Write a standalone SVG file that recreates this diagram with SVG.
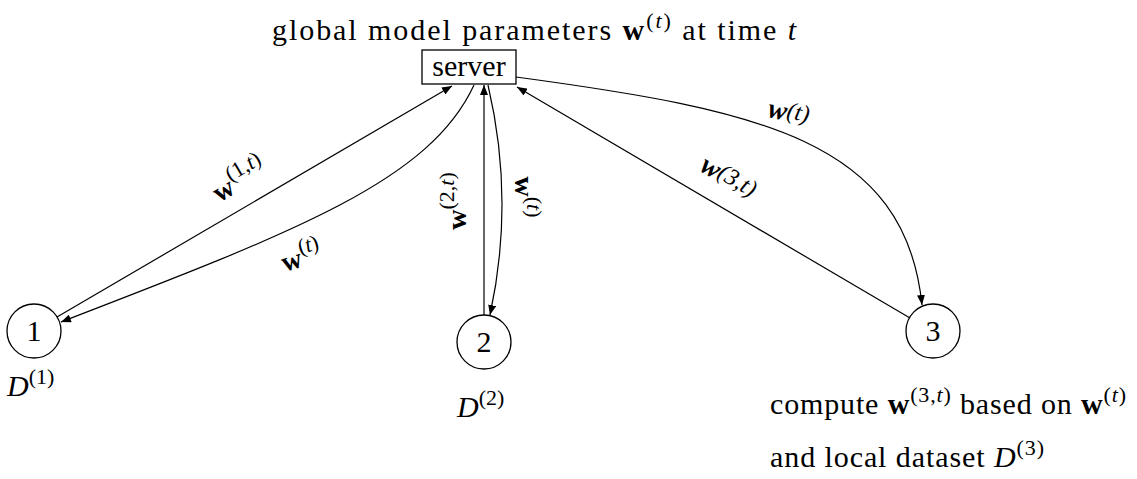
<svg xmlns="http://www.w3.org/2000/svg" width="1137" height="479" viewBox="0 0 1137 479">
<style>
text{font-family:"Liberation Serif","Times New Roman",serif;fill:#000}
.t{font-size:30px}
.lbl{font-size:28px}
.b{font-weight:bold}
.i{font-style:italic}
.node{fill:#fff;stroke:#000;stroke-width:1.3}
.edge{fill:none;stroke:#000;stroke-width:1.2}
</style>
<defs>
<marker id="ah" viewBox="0 0 10 8" refX="10" refY="4" markerWidth="10" markerHeight="8" markerUnits="userSpaceOnUse" orient="auto">
<path d="M0,0 L10,4 L0,8 Z" fill="#000"/>
</marker>
</defs>
<rect width="1137" height="479" fill="#fff"/>
<text class="t" x="272" y="40" textLength="524" lengthAdjust="spacing">global model parameters <tspan class="b">w</tspan><tspan font-size="22" dy="-12">(<tspan class="i">t</tspan>)</tspan><tspan dy="12"> at time </tspan><tspan class="i">t</tspan></text>
<g id="connectors">
<path class="edge" d="M57 317 L452 86" marker-end="url(#ah)"/>
<path class="edge" d="M474 85 C430 180,300 230,61 322" marker-end="url(#ah)"/>
<path class="edge" d="M484 315 L484 85" marker-end="url(#ah)"/>
<path class="edge" d="M488 85 Q515 200 490 315" marker-end="url(#ah)"/>
<path class="edge" d="M910 318 L517 87" marker-end="url(#ah)"/>
<path class="edge" d="M516 77 C760 110,905 140,922 305" marker-end="url(#ah)"/>
<g transform="translate(244,188) rotate(-30.6)"><text class="lbl" text-anchor="middle"><tspan class="b">w</tspan><tspan font-size="22" dy="-12">(1,<tspan class="i">t</tspan>)</tspan></text></g>
<g transform="translate(304,266) rotate(-17)"><text class="lbl" text-anchor="middle"><tspan class="b">w</tspan><tspan font-size="22" dy="-12">(<tspan class="i">t</tspan>)</tspan></text></g>
<g transform="translate(466,201) rotate(-90)"><text class="lbl" text-anchor="middle"><tspan class="b">w</tspan><tspan font-size="22" dy="-12">(2,<tspan class="i">t</tspan>)</tspan></text></g>
<g transform="translate(515,197) rotate(90)"><text class="lbl" text-anchor="middle"><tspan class="b">w</tspan><tspan font-size="22" dy="-12">(<tspan class="i">t</tspan>)</tspan></text></g>
<g transform="translate(724,185) rotate(30.4)"><text class="lbl i" text-anchor="middle"><tspan class="b">w</tspan><tspan font-size="24" dy="-3">(3,t)</tspan></text></g>
<g transform="translate(787,121) rotate(12)"><text class="lbl i" text-anchor="middle"><tspan class="b">w</tspan><tspan font-size="24" dy="-3">(t)</tspan></text></g>
</g>
<g id="server">
<rect class="node" x="422" y="50" width="94" height="34"/>
<text class="t" x="469" y="76" text-anchor="middle">server</text>
</g>
<g id="node1">
<circle class="node" cx="34" cy="331" r="27"/>
<text class="t" x="34" y="341" text-anchor="middle">1</text>
<text class="t" x="7" y="396"><tspan class="i">D</tspan><tspan font-size="22" dy="-12">(1)</tspan></text>
</g>
<g id="node2">
<circle class="node" cx="484" cy="342" r="27"/>
<text class="t" x="484" y="352" text-anchor="middle">2</text>
<text class="t" x="457" y="417"><tspan class="i">D</tspan><tspan font-size="22" dy="-12">(2)</tspan></text>
</g>
<g id="node3">
<circle class="node" cx="933" cy="331" r="27"/>
<text class="t" x="933" y="341" text-anchor="middle">3</text>
<text class="t" x="770" y="414" textLength="356" lengthAdjust="spacing">compute <tspan class="b">w</tspan><tspan font-size="22" dy="-12">(3,<tspan class="i">t</tspan>)</tspan><tspan dy="12"> based on </tspan><tspan class="b">w</tspan><tspan font-size="22" dy="-12">(<tspan class="i">t</tspan>)</tspan></text>
<text class="t" x="770" y="467" textLength="274" lengthAdjust="spacing">and local dataset <tspan class="i">D</tspan><tspan font-size="22" dy="-12">(3)</tspan></text>
</g>
</svg>
